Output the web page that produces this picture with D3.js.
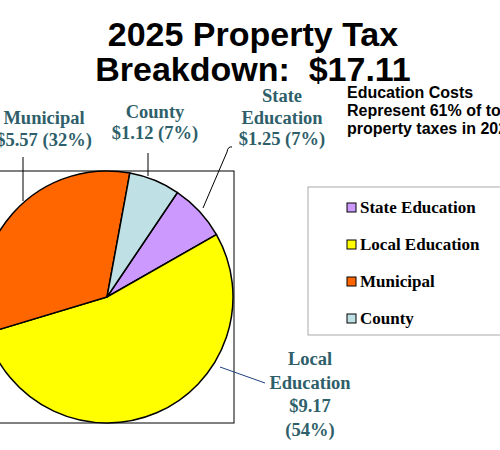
<!DOCTYPE html>
<html><head><meta charset="utf-8">
<script src="https://cdn.jsdelivr.net/npm/d3@7"></script>
<style>body{margin:0;background:#fff}</style>
</head><body>
<script>
var categories = ["State Education", "Local Education", "Municipal", "County"];
var values = [1.25, 9.17, 5.57, 1.12];
var percents = ["7%", "54%", "32%", "7%"];
var colors = ["#cc99ff", "#ffff00", "#ff6600", "#bfe0e4"];
var total = "$17.11";

var width = 500, height = 450;
var cx = 107, cy = 297, r = 126;

var svg = d3.select("body").append("svg")
    .attr("width", width)
    .attr("height", height);

// title
svg.append("text").attr("x", 253).attr("y", 46).attr("text-anchor", "middle")
    .style("font", "bold 34px Arial, 'Liberation Sans'").text("2025 Property Tax");
svg.append("text").attr("x", 253).attr("y", 81).attr("text-anchor", "middle")
    .attr("xml:space", "preserve")
    .style("font", "bold 34px Arial, 'Liberation Sans'").text("Breakdown:  " + total);

// side note
["Education Costs", "Represent 61% of total", "property taxes in 2025"].forEach(function(t, i) {
    svg.append("text").attr("x", 347).attr("y", 98 + i * 18)
        .style("font", "bold 16px Arial, 'Liberation Sans'").text(t);
});

// plot box
svg.append("rect").attr("x", -20).attr("y", 171).attr("width", 254).attr("height", 252)
    .attr("fill", "none").attr("stroke", "#000").attr("stroke-width", 1);

var pie = d3.pie().sort(null)
    .startAngle(34 * Math.PI / 180)
    .endAngle((34 + 360) * Math.PI / 180);
var arc = d3.arc().innerRadius(0).outerRadius(r);

svg.append("g").attr("transform", "translate(" + cx + "," + cy + ")")
    .selectAll("path").data(pie(values)).enter().append("path")
    .attr("d", arc)
    .attr("fill", function(d, i) { return colors[i]; })
    .attr("stroke", "#000").attr("stroke-width", 1.5);

// leader lines
var leaders = [
    "M232,147 Q228,146 227,152 L203,208",
    "M220,367 L265,383",
    "M23,157 L23,201",
    "M148,153 L148,176"
];
leaders.forEach(function(p, i) {
    svg.append("path").attr("d", p).attr("fill", "none")
        .attr("stroke", i === 1 ? "#1f3f7f" : "#000").attr("stroke-width", 1);
});

// data labels
var labelText = [
    ["State", "Education", "$1.25 (7%)"],
    ["Local", "Education", "$9.17", "(54%)"],
    ["Municipal", "$5.57 (32%)"],
    ["County", "$1.12 (7%)"]
];
var labelPos = [[282, 102, 21.5], [310, 365, 23.5], [44, 124, 22], [155, 118, 21]];
labelText.forEach(function(lines, i) {
    lines.forEach(function(t, j) {
        svg.append("text").attr("x", labelPos[i][0]).attr("y", labelPos[i][1] + j * labelPos[i][2])
            .attr("text-anchor", "middle").attr("fill", "#2f5f6a")
            .style("font", "bold 18.5px 'Liberation Serif', 'Times New Roman', serif")
            .text(t);
    });
});

// legend
svg.append("rect").attr("x", 308).attr("y", 187).attr("width", 200).attr("height", 148)
    .attr("fill", "#fff").attr("stroke", "#aaa").attr("stroke-width", 1);
var yLegend = d3.scalePoint().domain(categories).range([207, 318]);
categories.forEach(function(c, i) {
    var y = yLegend(c);
    svg.append("rect").attr("x", 347).attr("y", y - 4).attr("width", 9).attr("height", 9)
        .attr("fill", colors[i]).attr("stroke", "#000").attr("stroke-width", 1);
    svg.append("text").attr("x", 360).attr("y", y + 6)
        .style("font", "bold 17px 'Liberation Serif', 'Times New Roman', serif")
        .text(c);
});
</script>
</body></html>
